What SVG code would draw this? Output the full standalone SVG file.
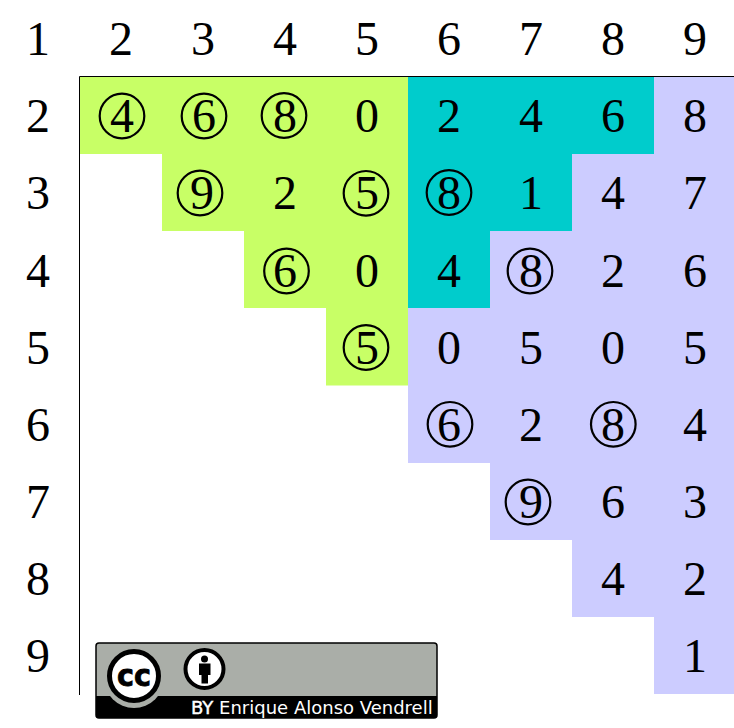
<svg xmlns="http://www.w3.org/2000/svg" width="734" height="728" viewBox="0 0 734 728">
<style>
text{font-family:"Liberation Serif","Times New Roman",serif;font-size:48px;text-anchor:middle;fill:#000}
.c{fill:none;stroke:#000;stroke-width:2.2}
.g{fill:#c8ff66}.t{fill:#00cccc}.l{fill:#ccccff}
.b{font-family:"DejaVu Sans",sans-serif;font-size:18px;fill:#fff;text-anchor:start}
</style>
<rect width="734" height="728" fill="#fff"/>
<g id="fills">
<path class="g" d="M80 77H408V385.500H326V308H244V231H162V154H80Z"/>
<path class="t" d="M408 77H654V154H572V231H490V308H408Z"/>
<path class="l" d="M654 77H734V694H654V617H572V540H490V463H408V308H490V231H572V154H654Z"/>
</g>
<g id="axes"><path d="M79.500 695V76.500H734" fill="none" stroke="#000" stroke-width="1"/></g>
<g id="header">
<text x="38" y="55">1</text><text x="121" y="55">2</text><text x="203" y="55">3</text><text x="285" y="55">4</text><text x="367" y="55">5</text><text x="449" y="55">6</text><text x="531" y="55">7</text><text x="613" y="55">8</text><text x="695" y="55">9</text>
<text x="38" y="132">2</text><text x="38" y="209">3</text><text x="38" y="287">4</text><text x="38" y="364">5</text><text x="38" y="441">6</text><text x="38" y="518">7</text><text x="38" y="595">8</text><text x="38" y="672">9</text>
</g>
<g id="cells">
<text x="122" y="132">4</text><text x="204" y="132">6</text><text x="285" y="132">8</text><text x="367" y="132">0</text><text x="449" y="132">2</text><text x="531" y="132">4</text><text x="613" y="132">6</text><text x="695" y="132">8</text>
<text x="202" y="209">9</text><text x="285" y="209">2</text><text x="367" y="209">5</text><text x="449" y="209">8</text><text x="531" y="209">1</text><text x="613" y="209">4</text><text x="695" y="209">7</text>
<text x="285" y="287">6</text><text x="367" y="287">0</text><text x="449" y="287">4</text><text x="531" y="287">8</text><text x="613" y="287">2</text><text x="695" y="287">6</text>
<text x="367" y="364">5</text><text x="449" y="364">0</text><text x="531" y="364">5</text><text x="613" y="364">0</text><text x="695" y="364">5</text>
<text x="449" y="441">6</text><text x="531" y="441">2</text><text x="613" y="441">8</text><text x="695" y="441">4</text>
<text x="531" y="518">9</text><text x="613" y="518">6</text><text x="695" y="518">3</text>
<text x="613" y="595">4</text><text x="695" y="595">2</text>
<text x="695" y="672">1</text>
</g>
<g id="circles">
<circle class="c" cx="122" cy="116" r="22.300"/><circle class="c" cx="204" cy="116" r="22.300"/><circle class="c" cx="284" cy="115.500" r="22.300"/>
<circle class="c" cx="200" cy="193" r="22.300"/><circle class="c" cx="366" cy="193.300" r="22.300"/><circle class="c" cx="449" cy="192.500" r="22.300"/>
<circle class="c" cx="286.500" cy="271" r="22.300"/><circle class="c" cx="530" cy="271" r="22.300"/>
<circle class="c" cx="366" cy="347.500" r="22.300"/><circle class="c" cx="450" cy="424.300" r="22.300"/><circle class="c" cx="613.300" cy="424.300" r="22.300"/>
<circle class="c" cx="528" cy="502" r="22.300"/>
</g>
<g id="badge">
<rect x="96" y="643" width="341" height="75" rx="3" fill="#aaaea8" stroke="#000" stroke-width="1.500"/>
<path d="M96 696H437V715a3 3 0 0 1-3 3H99a3 3 0 0 1-3-3Z" fill="#000"/>
<circle cx="134" cy="678" r="30" fill="#aaaea8"/>
<circle cx="134" cy="676" r="24.500" fill="#fff" stroke="#000" stroke-width="5"/>
<text x="134" y="686" textLength="34" lengthAdjust="spacingAndGlyphs" stroke="#000" stroke-width="0.800" style="font-family:'DejaVu Sans',sans-serif;font-size:30px;font-weight:bold">cc</text>
<circle cx="204.500" cy="669" r="19" fill="#fff" stroke="#000" stroke-width="4"/>
<circle cx="204.500" cy="659" r="3.500" fill="#000"/>
<path d="M199 663.500H210.500V675H208V683.500H201.500V675H199Z" fill="#000"/>
<text class="b" x="191" y="714"><tspan stroke="#fff" stroke-width="0.400">BY</tspan> Enrique Alonso Vendrell</text>
</g>
</svg>
